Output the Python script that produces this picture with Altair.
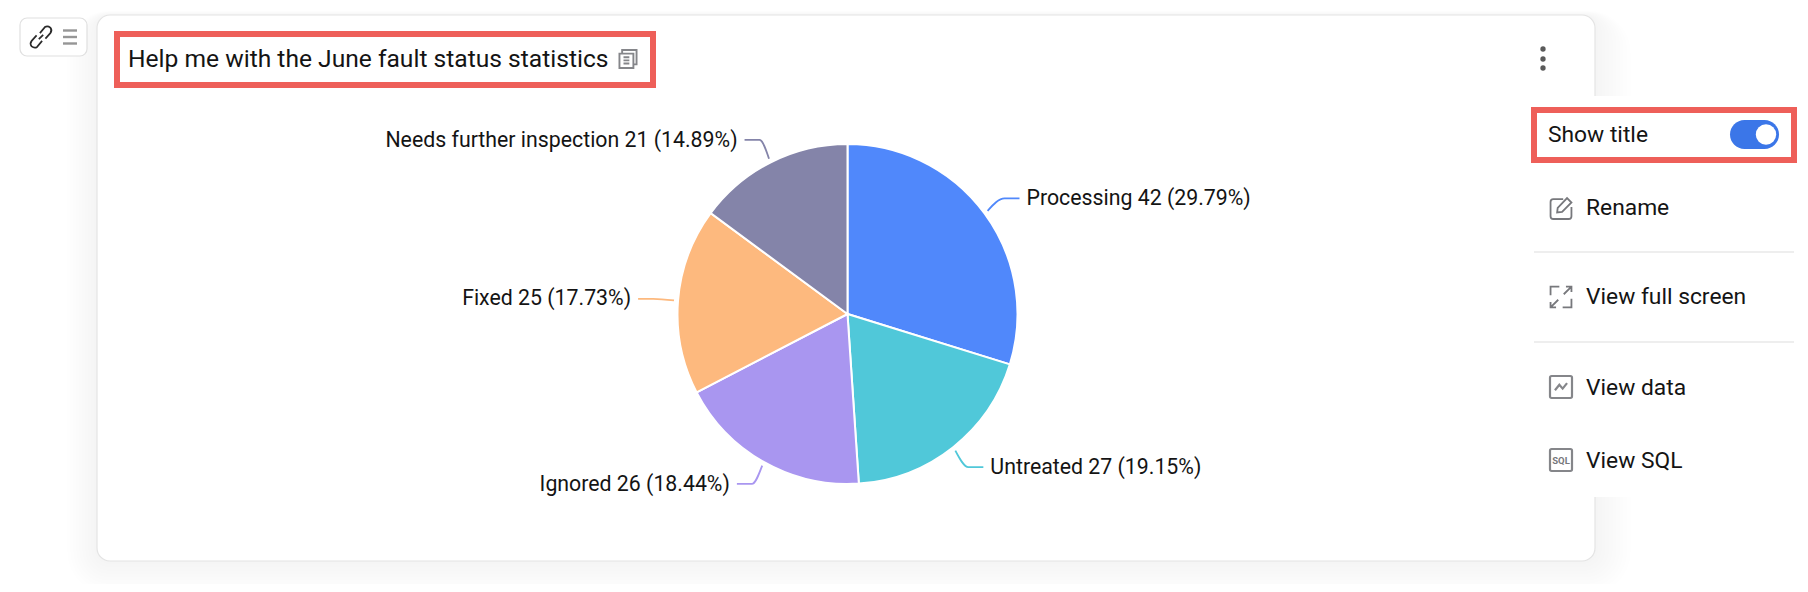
import math
import altair as alt
import pandas as pd

categories = ["Processing", "Untreated", "Ignored", "Fixed", "Needs further inspection"]
values = [42, 27, 26, 25, 21]
colors = ["#5088fb", "#50c8d9", "#a996f0", "#fdb97e", "#8484a9"]
title_text = "Help me with the June fault status statistics"
menu_items = ["Rename", "View full screen", "View data", "View SQL"]

CX, CY, R = 847.5, 314.0, 170
FONT = "Roboto"
INK = "#141414"
ICON = "#77787c"
RED = "#ee5f59"


def X(v):
    return alt.value(v - 8)


def Y(v):
    return alt.value(v - 8)


blank = {"values": [{}]}


def rect(x0, y0, x1, y1, **kw):
    return alt.Chart(blank).mark_rect(**kw).encode(x=X(x0), x2=X(x1), y=Y(y0), y2=Y(y1))


def rule(x0, y0, x1, y1, **kw):
    return alt.Chart(blank).mark_rule(**kw).encode(x=X(x0), x2=X(x1), y=Y(y0), y2=Y(y1))


def label(x, y, s, size=22, align="left", color=INK, **kw):
    return alt.Chart(blank).mark_text(
        text=s, font=FONT, fontSize=size, align=align, baseline="middle", color=color, **kw
    ).encode(x=X(x), y=Y(y))


def dot(x, y, r, color):
    return alt.Chart(blank).mark_circle(size=math.pi * r * r, color=color, opacity=1).encode(x=X(x), y=Y(y))


def icon(x, y, w, path, sw=1.8, color=ICON):
    return alt.Chart(blank).mark_point(
        shape=path, size=w * w, filled=False, stroke=color, strokeWidth=sw, opacity=1
    ).encode(x=X(x), y=Y(y))


layers = []

# card shadow, card
for i in range(1, 11):
    g = 3 * i
    layers.append(rect(97 - g, 15 - g * 0.15, 1595 + g * 1.2, 561 + g * 1.1,
                       fill="black", opacity=0.004, cornerRadius=12 + g))
layers.append(rect(97, 15, 1595, 561, fill="white", stroke="#e4e4e4", strokeWidth=1.2, cornerRadius=13))

# link box
layers.append(rect(20, 18, 87, 56, fill="white", stroke="#e0e0e0", strokeWidth=1.2, cornerRadius=7))
layers.append(icon(41, 37, 22,
                   "M-0.1,-0.35 L0.35,-0.9 Q0.6,-1.05 0.85,-0.85 Q1.05,-0.6 0.85,-0.35 L0.4,0.15 "
                   "M0.1,0.35 L-0.35,0.9 Q-0.6,1.05 -0.85,0.85 Q-1.05,0.6 -0.85,0.35 L-0.4,-0.15 "
                   "M-0.2,0.2 L0.2,-0.2", sw=1.7, color="#2a2a2a"))
for yy in (30.5, 37, 43.5):
    layers.append(rule(63, yy, 77, yy, stroke="#969696", strokeWidth=2.4))

# title
layers.append(label(128, 60, title_text, size=24.6))
layers.append(icon(628, 59, 18,
                   "M-0.65,-0.55 L-0.65,-1 L0.95,-1 L0.95,0.6 L0.6,0.6 "
                   "M-0.95,-0.6 H0.6 V1 H-0.95 Z M-0.5,-0.2 H0.15 M-0.5,0.15 H0.15 M-0.5,0.5 H0.15",
                   sw=1.9, color="#85868a"))
layers.append(rect(117, 34, 653, 85, fill="white", fillOpacity=0, stroke=RED, strokeWidth=6))

# kebab
for yy in (49, 59, 68):
    layers.append(dot(1543, yy, 3, "#5a5a5a"))

# pie
total = sum(values)
pie_df = pd.DataFrame({
    "cat": categories,
    "val": values,
    "idx": list(range(len(values))),
})
pie = alt.Chart(pie_df).mark_arc(outerRadius=R, stroke="white", strokeWidth=2).encode(
    theta=alt.Theta("val:Q", stack=True),
    order=alt.Order("idx:Q"),
    color=alt.Color("cat:N", scale=alt.Scale(domain=categories, range=colors), legend=None),
    x=X(CX),
    y=Y(CY),
)
layers.append(pie)

# leader lines and labels, derived from the values
rows, texts = [], []
cum = 0
for c, v in zip(categories, values):
    mid = (cum + v / 2) / total * 2 * math.pi
    cum += v
    s, co = math.sin(mid), math.cos(mid)
    side = 1 if s >= 0 else -1
    p0 = (CX + 174 * s, CY - 174 * co)
    p1 = (CX + 195 * s, CY - 195 * co)
    p2 = (p1[0] + side * 15, p1[1])
    for k, p in enumerate((p0, p1, p2)):
        rows.append({"cat": c, "k": k, "px": p[0] - 8, "py": p[1] - 8})
    texts.append({
        "cat": c,
        "txt": f"{c} {v} ({v / total * 100:.2f}%)",
        "px": p2[0] + side * 7 - 8,
        "py": p2[1] - 8 + 0.6,
        "al": "left" if side > 0 else "right",
    })

lead = alt.Chart(pd.DataFrame(rows)).mark_line(strokeWidth=1.8, interpolate="monotone").encode(
    x=alt.X("px:Q", scale=None, axis=None),
    y=alt.Y("py:Q", scale=None, axis=None),
    order="k:Q",
    detail="cat:N",
    color=alt.Color("cat:N", scale=alt.Scale(domain=categories, range=colors), legend=None),
)
layers.append(lead)

tdf = pd.DataFrame(texts)
for al in ("left", "right"):
    layers.append(
        alt.Chart(tdf[tdf["al"] == al]).mark_text(
            font=FONT, fontSize=21.3, align=al, baseline="middle", color=INK
        ).encode(
            x=alt.X("px:Q", scale=None, axis=None),
            y=alt.Y("py:Q", scale=None, axis=None),
            text="txt:N",
        )
    )

# menu panel
layers.append(rect(1530, 96, 1808, 497, fill="white"))

layers.append(label(1548, 135, "Show title", size=22.8))
layers.append(rect(1730, 120, 1779, 149, fill="#3b76e8", cornerRadius=14.5))
layers.append(dot(1766, 134.5, 11.5, "white"))
layers.append(rect(1534, 110, 1794, 160, fill="white", fillOpacity=0, stroke=RED, strokeWidth=6))

item_y = [208, 297, 388, 461]
for name, yy in zip(menu_items, item_y):
    layers.append(label(1586, yy, name, size=22.8))
layers.append(rule(1534, 252, 1794, 252, stroke="#e8e8e8", strokeWidth=1.5))
layers.append(rule(1534, 342, 1794, 342, stroke="#e8e8e8", strokeWidth=1.5))

layers.append(icon(1561, 208, 22,
                   "M0.2,-0.8 L-0.7,-0.8 Q-0.95,-0.8 -0.95,-0.55 L-0.95,0.75 Q-0.95,1 -0.7,1 L0.7,1 "
                   "Q0.95,1 0.95,0.75 L0.95,-0.1 M-0.35,0.4 L-0.3,0 L0.55,-0.9 L0.95,-0.5 L0.1,0.35 Z"))
layers.append(icon(1561, 297, 22,
                   "M-0.95,-0.15 V-0.95 H-0.15 M0.95,0.15 V0.95 H0.15 "
                   "M0.95,-0.95 L0.25,-0.25 M0.45,-0.95 H0.95 V-0.45 "
                   "M-0.95,0.95 L-0.25,0.25 M-0.95,0.45 V0.95 H-0.45"))
layers.append(icon(1561, 387, 22,
                   "M-0.85,-1 H0.85 Q1,-1 1,-0.85 V0.85 Q1,1 0.85,1 H-0.85 Q-1,1 -1,0.85 V-0.85 Q-1,-1 -0.85,-1 Z "
                   "M-0.55,0.3 L-0.15,-0.2 L0.15,0.15 L0.55,-0.35", sw=2.2, color="#85868a"))
layers.append(icon(1561, 460, 22,
                   "M-0.85,-1 H0.85 Q1,-1 1,-0.85 V0.85 Q1,1 0.85,1 H-0.85 Q-1,1 -1,0.85 V-0.85 Q-1,-1 -0.85,-1 Z",
                   sw=2.2, color="#85868a"))
layers.append(label(1561, 460.5, "SQL", size=9.5, align="center", color=ICON, fontWeight="bold"))

chart = alt.layer(*layers).properties(
    width=1792, height=576, padding=0, autosize=alt.AutoSizeParams(type="none")
).configure_view(stroke=None)

chart.save("out.html", embed_options={"renderer": "svg", "actions": False})
